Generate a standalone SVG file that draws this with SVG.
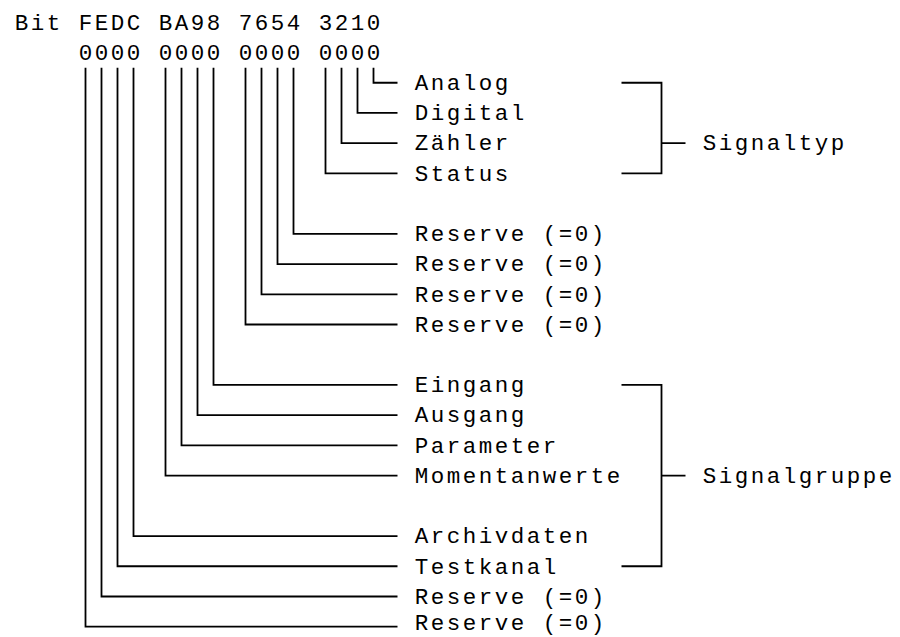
<svg xmlns="http://www.w3.org/2000/svg" width="900" height="637" viewBox="0 0 900 637">
<style>
text{font-family:"Liberation Mono","Courier New",monospace;font-size:22.5px;letter-spacing:2.5px;fill:#000}
.c{fill:none;stroke:#000;stroke-width:1.8;stroke-linejoin:miter;stroke-linecap:butt}
</style>
<rect width="900" height="637" fill="#fff"/>
<g id="header"><text x="14.75" y="29.6">Bit FEDC BA98 7654 3210</text></g>
<g id="bits"><text x="78.75" y="59.82">0000 0000 0000 0000</text></g>
<g id="connectors">
<path class="c" d="M373.5 67.8V82.74H397.5"/>
<path class="c" d="M357.5 67.8V112.96H397.5"/>
<path class="c" d="M341.5 67.8V143.18H397.5"/>
<path class="c" d="M325.5 67.8V173.4H397.5"/>
<path class="c" d="M293.5 67.8V233.84H397.5"/>
<path class="c" d="M277.5 67.8V264.06H397.5"/>
<path class="c" d="M261.5 67.8V294.28H397.5"/>
<path class="c" d="M245.5 67.8V324.5H397.5"/>
<path class="c" d="M213.5 67.8V384.94H397.5"/>
<path class="c" d="M197.5 67.8V415.16H397.5"/>
<path class="c" d="M181.5 67.8V445.38H397.5"/>
<path class="c" d="M165.5 67.8V475.6H397.5"/>
<path class="c" d="M133.5 67.8V536.04H397.5"/>
<path class="c" d="M117.5 67.8V566.26H397.5"/>
<path class="c" d="M101.5 67.8V596.48H397.5"/>
<path class="c" d="M85.5 67.8V626.7H397.5"/>
<path class="c" d="M621.5 82.74H661.5V173.4H621.5M661.5 143.18H685.5"/>
<path class="c" d="M621.5 384.94H661.5V566.26H621.5M661.5 475.6H685.5"/>
</g>
<g id="bit0"><text x="414.75" y="90.04">Analog</text></g>
<g id="bit1"><text x="414.75" y="120.26">Digital</text></g>
<g id="bit2"><text x="414.75" y="150.48">Zähler</text></g>
<g id="bit3"><text x="414.75" y="180.7">Status</text></g>
<g id="bit4"><text x="414.75" y="241.14">Reserve (=0)</text></g>
<g id="bit5"><text x="414.75" y="271.36">Reserve (=0)</text></g>
<g id="bit6"><text x="414.75" y="301.58">Reserve (=0)</text></g>
<g id="bit7"><text x="414.75" y="331.8">Reserve (=0)</text></g>
<g id="bit8"><text x="414.75" y="392.24">Eingang</text></g>
<g id="bit9"><text x="414.75" y="422.46">Ausgang</text></g>
<g id="bitA"><text x="414.75" y="452.68">Parameter</text></g>
<g id="bitB"><text x="414.75" y="482.9">Momentanwerte</text></g>
<g id="bitC"><text x="414.75" y="543.34">Archivdaten</text></g>
<g id="bitD"><text x="414.75" y="573.56">Testkanal</text></g>
<g id="bitE"><text x="414.75" y="603.78">Reserve (=0)</text></g>
<g id="bitF"><text x="414.75" y="630">Reserve (=0)</text></g>
<g id="signaltyp"><text x="702.75" y="150.48">Signaltyp</text></g>
<g id="signalgruppe"><text x="702.75" y="482.9">Signalgruppe</text></g>
</svg>
